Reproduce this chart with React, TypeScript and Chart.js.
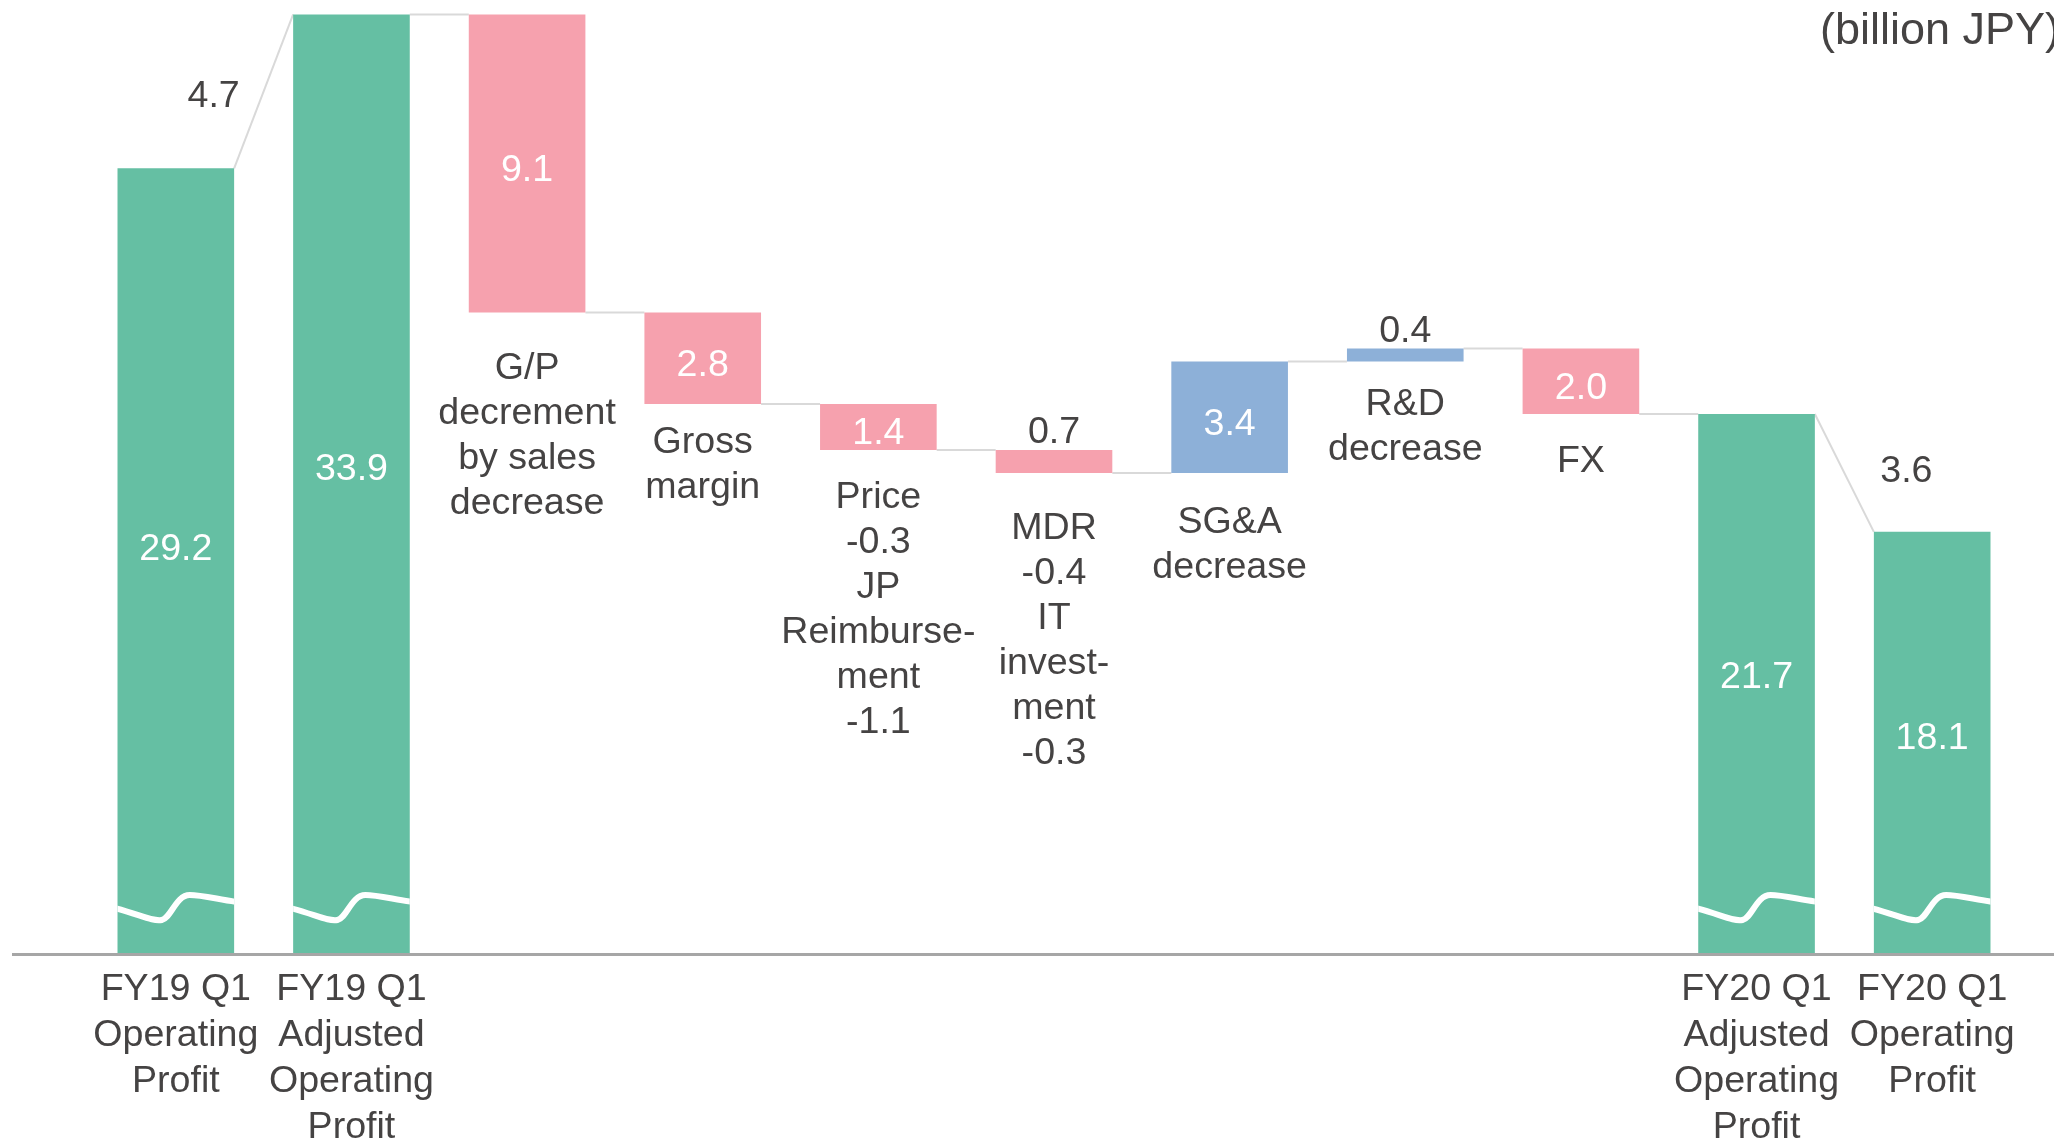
import React, { useEffect, useRef } from 'react';
import { Chart, registerables } from 'chart.js';

Chart.register(...registerables);

// ---------- data ----------
const categories: string[][] = [
  ['FY19 Q1', 'Operating', 'Profit'],
  ['FY19 Q1', 'Adjusted', 'Operating', 'Profit'],
  ['G/P', 'decrement', 'by sales', 'decrease'],
  ['Gross', 'margin'],
  ['Price', '-0.3', 'JP', 'Reimburse-', 'ment', '-1.1'],
  ['MDR', '-0.4', 'IT', 'invest-', 'ment', '-0.3'],
  ['SG&A', 'decrease'],
  ['R&D', 'decrease'],
  ['FX'],
  ['FY20 Q1', 'Adjusted', 'Operating', 'Profit'],
  ['FY20 Q1', 'Operating', 'Profit'],
];
const barKinds = ['total', 'total', 'delta', 'delta', 'delta', 'delta', 'delta', 'delta', 'delta', 'total', 'total'];
const values = [29.2, 33.9, -9.1, -2.8, -1.4, -0.7, 3.4, 0.4, -2.0, 21.7, 18.1];
const unitLabel = '(billion JPY)';
const Y_MIN = 5.24;
const Y_MAX = 34.34;

// ---------- styles ----------
const GREEN = '#65bfa3';
const PINK = '#f6a1ae';
const BLUE = '#8db0d8';
const TEXT = '#454343';
const CONNECTOR = '#d9d9d9';
const AXIS = '#a6a6a6';
const FONT = '"Liberation Sans", Arial, sans-serif';
const FONT_SIZE = 37.6;
const AXIS_LINE_H = 45.8;
const PLOT_LINE_H = 45;
const TEXT_DY = 5; // visual centring correction for middle baseline
// gap (px) from the bottom of a change bar to the centre of its first label line
const labelGaps = [0, 0, 51, 34, 43, 51, 45, 38, 43];

// derived floating ranges and running levels
const levels: number[] = [];
const ranges: [number, number][] = [];
{
  let run = 0;
  values.forEach((v, i) => {
    if (barKinds[i] === 'total') {
      ranges.push([Y_MIN, v]);
      run = v;
    } else {
      const lo = run;
      const hi = run + v;
      ranges.push([Math.min(lo, hi), Math.max(lo, hi)]);
      run = hi;
    }
    levels.push(run);
  });
}
const colors = values.map((v, i) => (barKinds[i] === 'total' ? GREEN : v < 0 ? PINK : BLUE));

const waterfallPlugin = {
  id: 'waterfallDecor',
  beforeDatasetsDraw(chart: any) {
    const ctx = chart.ctx;
    const meta = chart.getDatasetMeta(0);
    const y = chart.scales.y;
    ctx.save();
    ctx.strokeStyle = CONNECTOR;
    ctx.lineWidth = 2;
    for (let i = 0; i < values.length - 1; i++) {
      const a = meta.data[i];
      const b = meta.data[i + 1];
      const aRight = a.x + a.width / 2;
      const bLeft = b.x - b.width / 2;
      ctx.beginPath();
      if (barKinds[i] === 'total' && barKinds[i + 1] === 'total') {
        ctx.moveTo(aRight, y.getPixelForValue(values[i]));
        ctx.lineTo(bLeft, y.getPixelForValue(values[i + 1]));
      } else {
        const py = y.getPixelForValue(levels[i]);
        ctx.moveTo(aRight, py);
        ctx.lineTo(bLeft, py);
      }
      ctx.stroke();
    }
    ctx.restore();
  },
  afterDatasetsDraw(chart: any) {
    const ctx = chart.ctx;
    const meta = chart.getDatasetMeta(0);
    const area = chart.chartArea;
    const B = area.bottom;
    ctx.save();

    // break marks on total bars
    meta.data.forEach((el: any, i: number) => {
      if (barKinds[i] !== 'total') return;
      const w = el.width;
      const L = el.x - w / 2;
      ctx.save();
      ctx.beginPath();
      ctx.rect(L, 0, w, B);
      ctx.clip();
      ctx.beginPath();
      ctx.moveTo(L - 3, B - 45);
      ctx.bezierCurveTo(L + 0.18 * w, B - 39, L + 0.3 * w, B - 31, L + 0.38 * w, B - 33);
      ctx.bezierCurveTo(L + 0.46 * w, B - 35, L + 0.5 * w, B - 58, L + 0.62 * w, B - 58);
      ctx.bezierCurveTo(L + 0.72 * w, B - 58, L + 0.85 * w, B - 54, L + w + 3, B - 51);
      ctx.strokeStyle = '#ffffff';
      ctx.lineWidth = 6;
      ctx.stroke();
      ctx.restore();
    });

    // axis line
    ctx.beginPath();
    ctx.strokeStyle = AXIS;
    ctx.lineWidth = 3;
    ctx.moveTo(12, B + 1.5);
    ctx.lineTo(chart.width, B + 1.5);
    ctx.stroke();

    ctx.font = `${FONT_SIZE}px ${FONT}`;
    ctx.textAlign = 'center';
    ctx.textBaseline = 'middle';

    // value labels
    meta.data.forEach((el: any, i: number) => {
      const top = Math.min(el.y, el.base);
      const bot = Math.max(el.y, el.base);
      const txt = Math.abs(values[i]).toFixed(1);
      if (bot - top < 40) {
        ctx.fillStyle = TEXT;
        ctx.fillText(txt, el.x, top - 22 + TEXT_DY);
      } else {
        ctx.fillStyle = '#ffffff';
        const cy = barKinds[i] === 'total' ? top + 0.48 * (bot - top) + 4.5 : (top + bot) / 2 + TEXT_DY + 2;
        ctx.fillText(txt, el.x, cy);
      }
    });

    // bridge labels between consecutive totals
    for (let i = 0; i < values.length - 1; i++) {
      if (barKinds[i] === 'total' && barKinds[i + 1] === 'total') {
        const a = meta.data[i];
        const b = meta.data[i + 1];
        const x1 = a.x + a.width / 2;
        const x2 = b.x - b.width / 2;
        const y1 = Math.min(a.y, a.base);
        const y2 = Math.min(b.y, b.base);
        const rising = values[i + 1] > values[i];
        const mx = (x1 + x2) / 2 + (rising ? -50 : 62);
        const my = (y1 + y2) / 2 - (rising ? 0 : 6);
        ctx.fillStyle = TEXT;
        ctx.fillText(Math.abs(values[i + 1] - values[i]).toFixed(1), mx, my + TEXT_DY);
      }
    }

    // in-plot category labels for change bars
    ctx.fillStyle = TEXT;
    meta.data.forEach((el: any, i: number) => {
      if (barKinds[i] !== 'delta') return;
      const bot = Math.max(el.y, el.base);
      categories[i].forEach((line, k) => {
        ctx.fillText(line, el.x, bot + labelGaps[i] + k * PLOT_LINE_H + TEXT_DY);
      });
    });

    // unit label
    ctx.font = `45px ${FONT}`;
    ctx.textAlign = 'left';
    ctx.textBaseline = 'alphabetic';
    ctx.fillText(unitLabel, 1820, 44);

    ctx.restore();
  },
};

export default function App() {
  const ref = useRef<HTMLCanvasElement>(null);
  useEffect(() => {
    document.body.style.margin = '0';
    document.body.style.overflow = 'hidden';
    const canvas = ref.current!;
    const chart = new Chart(canvas, {
      type: 'bar',
      data: {
        labels: categories,
        datasets: [
          {
            data: ranges as any,
            backgroundColor: colors,
            borderWidth: 0,
            categoryPercentage: 1,
            barPercentage: 0.664,
          },
        ],
      },
      options: {
        responsive: false,
        animation: false,
        devicePixelRatio: 1,
        layout: { padding: { left: 88, right: 34, top: 0, bottom: 0 } },
        plugins: { legend: { display: false }, tooltip: { enabled: false } },
        scales: {
          x: {
            grid: { display: false, drawTicks: false },
            border: { display: false },
            ticks: {
              autoSkip: false,
              maxRotation: 0,
              minRotation: 0,
              padding: 14,
              color: TEXT,
              font: { family: FONT, size: FONT_SIZE, lineHeight: AXIS_LINE_H / FONT_SIZE },
              callback: (_v: any, i: number) => (barKinds[i] === 'total' ? categories[i] : ''),
            },
            afterFit: (scale: any) => {
              scale.height = 185;
            },
          },
          y: {
            display: false,
            min: Y_MIN,
            max: Y_MAX,
          },
        },
      },
      plugins: [waterfallPlugin],
    });
    return () => chart.destroy();
  }, []);
  return (
    <div style={{ position: 'fixed', left: 0, top: 0, width: 2054, height: 1138, background: '#ffffff' }}>
      <canvas ref={ref} width={2054} height={1138} style={{ display: 'block', width: 2054, height: 1138 }} />
    </div>
  );
}
